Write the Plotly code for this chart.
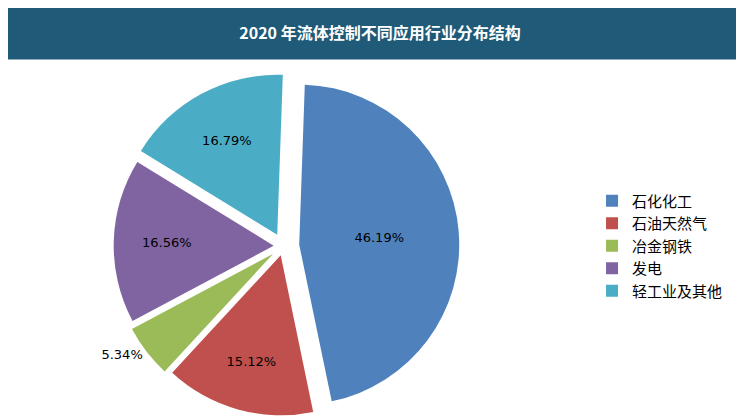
import plotly.graph_objects as go

labels = ["石化化工", "石油天然气", "冶金钢铁", "发电", "轻工业及其他"]
values = [46.19, 15.12, 5.34, 16.56, 16.79]
colors = ["#4f81bd", "#c0504d", "#9bbb59", "#8064a2", "#4bacc6"]
texts = ["46.19%", "15.12%", "5.34%", "16.56%", "16.79%"]

fig = go.Figure(go.Pie(
    labels=labels, values=values, text=texts,
    textinfo="text", sort=False, direction="clockwise", rotation=2,
    pull=[0.1, 0.06, 0.08, 0.06, 0.08],
    marker=dict(colors=colors, line=dict(color="#ffffff", width=0)),
    textposition=["inside", "inside", "outside", "inside", "inside"],
    textfont=dict(color="#000000", size=13, family="DejaVu Sans"),
    insidetextorientation="horizontal",
    domain=dict(x=[0.02, 0.72], y=[0.0, 1.0]),
))

fig.update_layout(
    width=744, height=416,
    margin=dict(l=0, r=0, t=62, b=2, autoexpand=False),
    paper_bgcolor="#ffffff",
    font=dict(family="Noto Sans CJK SC"),
    showlegend=True,
    legend=dict(x=0.785, y=0.5, xanchor="left", yanchor="middle",
                font=dict(size=15, color="#000000"), tracegroupgap=0, itemwidth=30),
    shapes=[dict(type="rect", xref="paper", yref="paper", x0=-0.05, x1=1.05,
                 y0=1.03, y1=1.2, fillcolor="#1f5b78", line=dict(width=0), layer="below")],
    title=dict(text="<b>2020 年流体控制不同应用行业分布结构</b>", x=0.5, y=0.94,
               xanchor="center", yanchor="middle",
               font=dict(color="#ffffff", size=16, family="Noto Sans CJK SC")),
)

fig.write_html("out.html")
